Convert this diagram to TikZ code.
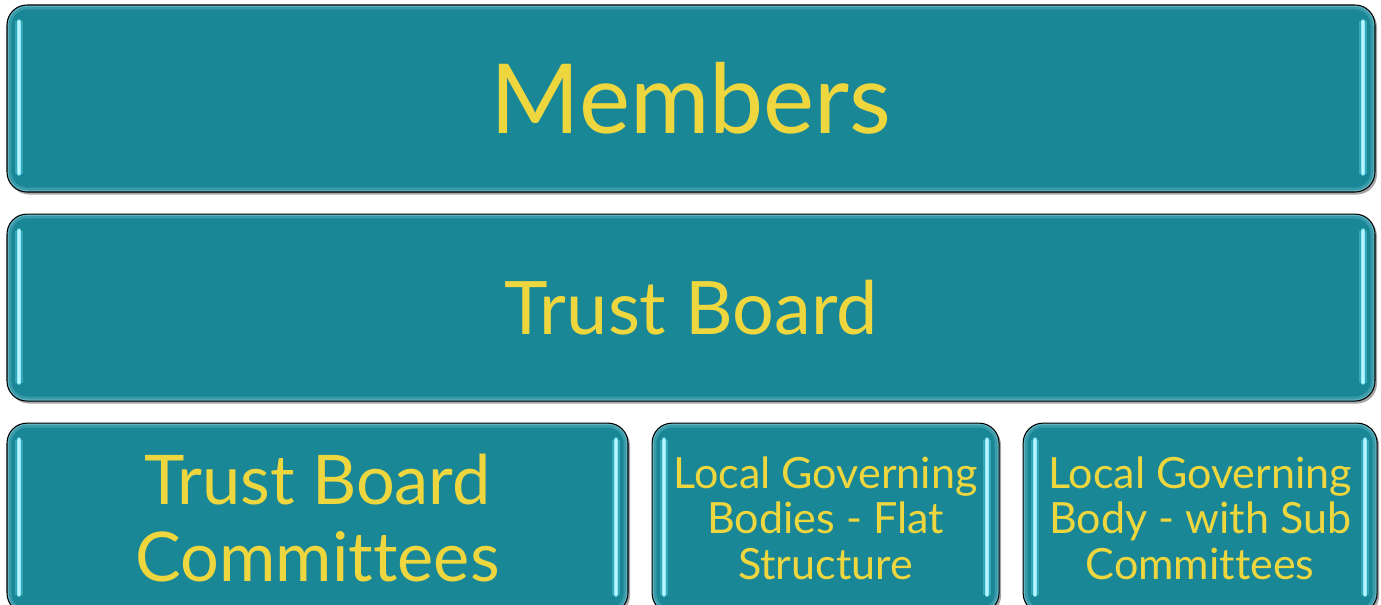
\documentclass[tikz,border=0pt]{standalone}
\usepackage{fontspec}
\setmainfont[Ligatures=NoCommon]{Lato}
\usetikzlibrary{positioning, shadows}

\definecolor{boxteal}{RGB}{26,135,151}
\definecolor{edgeteal}{RGB}{95,178,192}
\definecolor{govyellow}{RGB}{238,214,62}
\definecolor{glintcyan}{RGB}{130,236,252}

\tikzset{
  govbox/.style={draw=black, line width=0.6pt, fill=boxteal, rounded corners=0.4cm,
    text=govyellow, align=center, inner sep=0pt,
    drop shadow={shadow xshift=0.04cm, shadow yshift=-0.05cm, opacity=0.35, fill=black},
    path picture={
      \draw[edgeteal, line width=5pt, opacity=0.45, rounded corners=0.4cm]
        (path picture bounding box.south west) rectangle (path picture bounding box.north east);
      \draw[edgeteal, line width=2pt, rounded corners=0.4cm]
        (path picture bounding box.south west) rectangle (path picture bounding box.north east);
    }},
  glint/.style={draw=glintcyan, line width=2.4pt, line cap=round,
    preaction={draw=glintcyan, line width=4.2pt, opacity=0.3},
    postaction={draw=white, line width=0.8pt, opacity=0.5}}
}

\begin{document}
\begin{tikzpicture}
    \useasboundingbox (0,0) rectangle (27.62,-12.08);
    % Nodes
    \node (members) [govbox, minimum width=27.36cm, minimum height=3.74cm, font=\fontsize{55}{60}\selectfont] at (13.82,-1.97) {Members};
    \node (trustboard) [govbox, below=0.42cm of members, minimum width=27.36cm, minimum height=3.74cm, font=\fontsize{42}{46}\selectfont] {Trust Board};
    \node (committees) [govbox, below=0.42cm of trustboard.south west, anchor=north west, minimum width=12.42cm, minimum height=3.8cm, font=\fontsize{39}{44}\selectfont] {Trust Board\\Committees};
    \node (lgbflat) [govbox, right=0.46cm of committees, minimum width=6.94cm, minimum height=3.8cm, font=\fontsize{24.5}{26}\selectfont] {Local Governing\\Bodies - Flat\\Structure};
    \node (lgbsub) [govbox, right=0.46cm of lgbflat, minimum width=7.08cm, minimum height=3.8cm, font=\fontsize{24.5}{26}\selectfont] {Local Governing\\Body - with Sub\\Committees};

    % Glints
    \foreach \b in {members, trustboard, committees, lgbflat, lgbsub} {
      \draw[glint] ([xshift=0.25cm, yshift=-0.34cm]\b.north west) -- ([xshift=0.25cm, yshift=0.38cm]\b.south west);
      \draw[glint] ([xshift=-0.25cm, yshift=-0.34cm]\b.north east) -- ([xshift=-0.25cm, yshift=0.38cm]\b.south east);
    }
\end{tikzpicture}
\end{document}
